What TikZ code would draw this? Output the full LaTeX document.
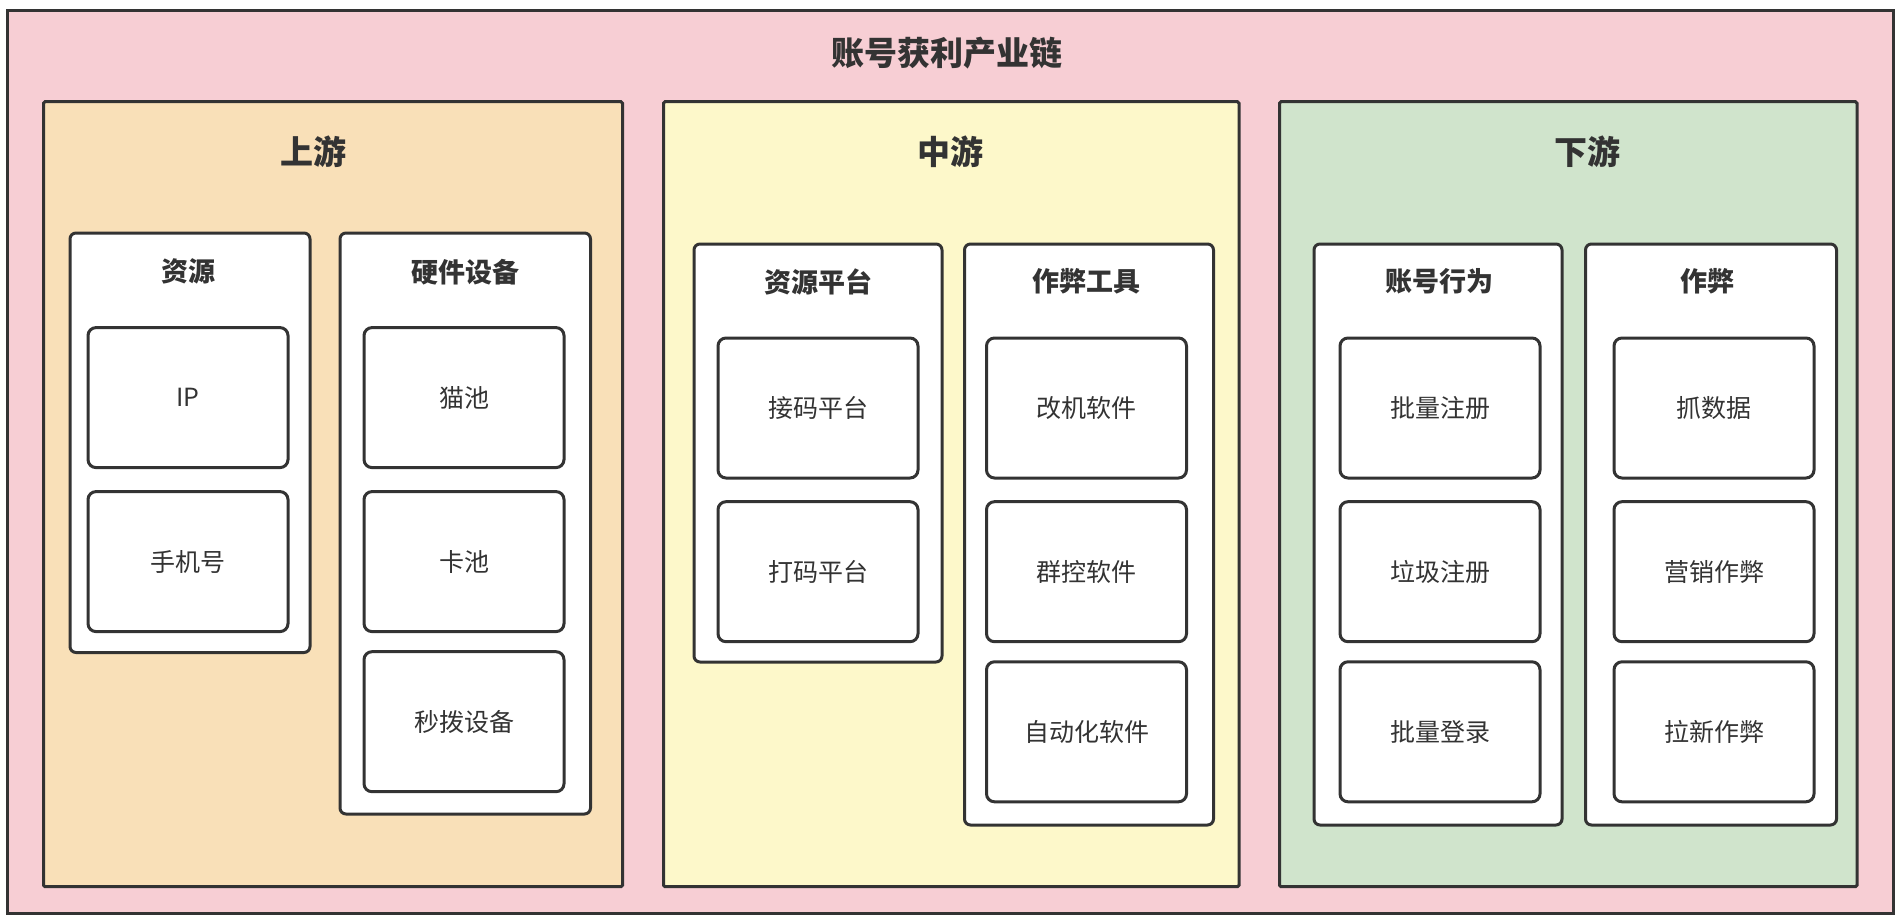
\documentclass[tikz,border=0pt]{standalone}
\usepackage{fontspec}
\setmainfont{Noto Sans CJK SC}
\definecolor{ink}{HTML}{333333}
\definecolor{outerbg}{HTML}{F7CED4}
\definecolor{upbg}{HTML}{F9E0B8}
\definecolor{midbg}{HTML}{FDF8CA}
\definecolor{downbg}{HTML}{D0E4CC}
\tikzset{
  box/.style={draw=ink, line width=3pt, inner sep=0pt},
  outerbox/.style={box, fill=outerbg},
  panel/.style={box, rounded corners=1.5pt},
  grp/.style={box, fill=white, rounded corners=6pt},
  item/.style={box, fill=white, rounded corners=8pt, minimum width=200pt, minimum height=140pt,
    font=\fontsize{25}{30}\selectfont, text=ink},
  maintitle/.style={font=\fontsize{33}{40}\selectfont\bfseries, text=ink, inner sep=0pt},
  ptitle/.style={font=\fontsize{33}{40}\selectfont\bfseries, text=ink, inner sep=0pt},
  gtitle/.style={font=\fontsize{27}{32}\selectfont\bfseries, text=ink, inner sep=0pt},
}
\begin{document}
\begin{tikzpicture}[x=1pt, y=-1pt]
\useasboundingbox (0,0) rectangle (1902,920);
% outer frame
\draw[outerbox] (7.5,10.3) rectangle (1893,913);
\node[maintitle] (title) at (947,53.5) {账号获利产业链};
% panels
\draw[panel, fill=upbg] (43.5,101.7) rectangle (622.5,886.7);
\draw[panel, fill=midbg] (663.5,101.7) rectangle (1239,886.7);
\draw[panel, fill=downbg] (1279.5,101.7) rectangle (1857,886.7);
\node[ptitle] (up) at (313,152) {上游};
\node[ptitle] (mid) at (950,152) {中游};
\node[ptitle] (down) at (1587,152) {下游};
% groups
\draw[grp] (70,233) rectangle (310,652.5);
\draw[grp] (340,233) rectangle (590.5,814);
\draw[grp] (694,244) rectangle (942,662);
\draw[grp] (964.5,244) rectangle (1213.5,825);
\draw[grp] (1314,244) rectangle (1562,825);
\draw[grp] (1585.5,244) rectangle (1836.5,825);
\node[gtitle] (g1) at (188.5,271.7) {资源};
\node[gtitle] (g2) at (465,271.7) {硬件设备};
\node[gtitle] (g3) at (818.4,281.7) {资源平台};
\node[gtitle] (g4) at (1086,281.7) {作弊工具};
\node[gtitle] (g5) at (1439,281.7) {账号行为};
\node[gtitle] (g6) at (1707,281.7) {作弊};
% items upstream
\node[item] (ip) at (188,397.6) {IP};
\node[item] (phone) at (188,561.6) {手机号};
\node[item] (cat) at (464,397.6) {猫池};
\node[item] (card) at (464,561.6) {卡池};
\node[item] (dial) at (464,721.7) {秒拨设备};
% items midstream
\node[item] (recv) at (818,408) {接码平台};
\node[item] (captcha) at (818,571.7) {打码平台};
\node[item] (mod) at (1086.5,408) {改机软件};
\node[item] (group) at (1086.5,571.7) {群控软件};
\node[item] (auto) at (1086.5,731.8) {自动化软件};
% items downstream
\node[item] (reg) at (1440,408) {批量注册};
\node[item] (junk) at (1440,571.7) {垃圾注册};
\node[item] (login) at (1440,731.8) {批量登录};
\node[item] (crawl) at (1714,408) {抓数据};
\node[item] (market) at (1714,571.7) {营销作弊};
\node[item] (invite) at (1714,731.8) {拉新作弊};
\end{tikzpicture}
\end{document}
